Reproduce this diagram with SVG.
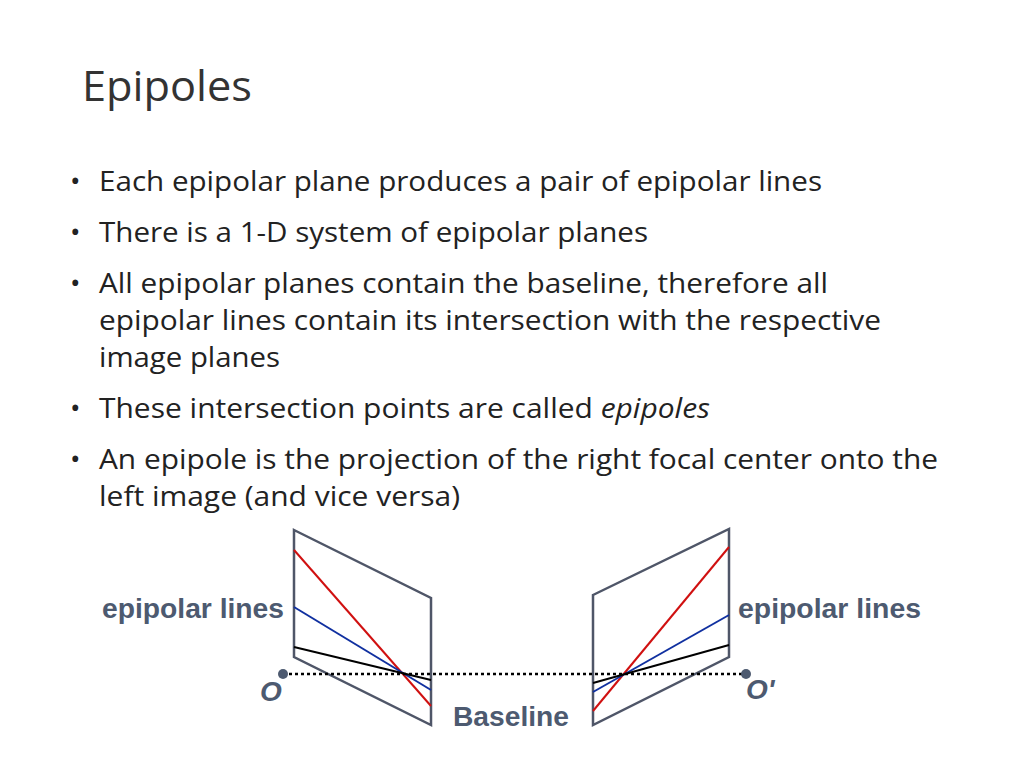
<svg xmlns="http://www.w3.org/2000/svg" width="1024" height="768" viewBox="0 0 1024 768">
<style>
.t{font-family:"Open Sans","Liberation Sans",sans-serif;font-size:28px;fill:#222}
.lb{font-family:"Liberation Sans",Arial,sans-serif;font-weight:bold;font-size:28px;fill:#4d5a70}
.pl{fill:none;stroke:#4f5668;stroke-width:2.5}
</style>
<rect width="1024" height="768" fill="#fff"/>
<text x="82" y="101" font-family="'Open Sans','Liberation Sans',sans-serif" font-size="42" fill="#333" textLength="170" lengthAdjust="spacingAndGlyphs">Epipoles</text>
<g class="t">
<text x="70" y="191">•</text><text x="99" y="191" textLength="723" lengthAdjust="spacingAndGlyphs">Each epipolar plane produces a pair of epipolar lines</text>
<text x="70" y="242">•</text><text x="99" y="242" textLength="549" lengthAdjust="spacingAndGlyphs">There is a 1-D system of epipolar planes</text>
<text x="70" y="293">•</text><text x="99" y="293" textLength="729" lengthAdjust="spacingAndGlyphs">All epipolar planes contain the baseline, therefore all</text>
<text x="99" y="330" textLength="782" lengthAdjust="spacingAndGlyphs">epipolar lines contain its intersection with the respective</text>
<text x="99" y="367" textLength="181" lengthAdjust="spacingAndGlyphs">image planes</text>
<text x="70" y="418">•</text><text x="99" y="418" textLength="611" lengthAdjust="spacingAndGlyphs">These intersection points are called <tspan font-style="italic">epipoles</tspan></text>
<text x="70" y="469">•</text><text x="99" y="469" textLength="839" lengthAdjust="spacingAndGlyphs">An epipole is the projection of the right focal center onto the</text>
<text x="99" y="506" textLength="361" lengthAdjust="spacingAndGlyphs">left image (and vice versa)</text>
</g>
<g id="left-plane">
<polygon class="pl" points="294,530 431,598 431,725 294,657"/>
<line x1="294" y1="550" x2="431" y2="706" stroke="#d01010" stroke-width="2"/>
<line x1="294" y1="607" x2="431" y2="690" stroke="#1030a0" stroke-width="2"/>
<line x1="294" y1="647" x2="431" y2="680" stroke="#000" stroke-width="2"/>
</g>
<g id="right-plane">
<polygon class="pl" points="593,595 729,529 729,657 593,725"/>
<line x1="593" y1="711" x2="729" y2="547" stroke="#d01010" stroke-width="2"/>
<line x1="593" y1="692" x2="729" y2="615" stroke="#1030a0" stroke-width="2"/>
<line x1="593" y1="683" x2="729" y2="645" stroke="#000" stroke-width="2"/>
</g>
<g id="connectors">
<line x1="283" y1="674" x2="746" y2="674" stroke="#000" stroke-width="2.5" stroke-dasharray="3,3"/>
<circle cx="283" cy="674" r="5" fill="#4d5a70"/>
<circle cx="746" cy="674" r="5" fill="#4d5a70"/>
</g>
<text class="lb" x="102" y="618" textLength="182" lengthAdjust="spacingAndGlyphs">epipolar lines</text>
<text class="lb" x="738" y="618" textLength="183" lengthAdjust="spacingAndGlyphs">epipolar lines</text>
<text class="lb" x="453" y="726" textLength="116" lengthAdjust="spacingAndGlyphs">Baseline</text>
<text class="lb" x="260" y="701" font-family="'Liberation Serif',serif" font-style="italic">O</text>
<text class="lb" x="746" y="699" font-family="'Liberation Serif',serif" font-style="italic">O'</text>
</svg>
